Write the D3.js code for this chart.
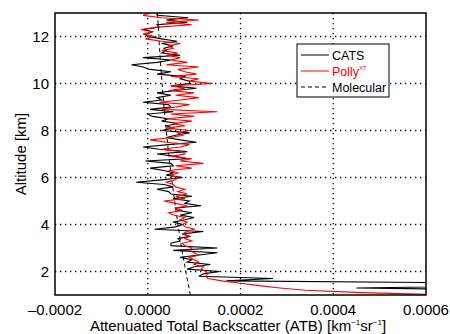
<!DOCTYPE html>
<html>
<head>
<meta charset="utf-8">
<script src="https://cdn.jsdelivr.net/npm/d3@7"></script>
<style>
  body { margin: 0; background: #fff; }
  svg { font-family: "Liberation Sans", Arial, Helvetica, sans-serif; }
</style>
</head>
<body>
<script>
// altitude grid [km] shared by both lidar profiles
const altitudeKm = [
  1.0,1.1,1.2,1.3,1.4,1.5,1.6,1.7,1.8,1.9,
  2.0,2.1,2.2,2.3,2.4,2.5,2.6,2.7,2.8,2.9,
  3.0,3.1,3.2,3.3,3.4,3.5,3.6,3.7,3.8,3.9,
  4.0,4.1,4.2,4.3,4.4,4.5,4.6,4.7,4.8,4.9,
  5.0,5.1,5.2,5.3,5.4,5.5,5.6,5.7,5.8,5.9,
  6.0,6.1,6.2,6.3,6.4,6.5,6.6,6.7,6.8,6.9,
  7.0,7.1,7.2,7.3,7.4,7.5,7.6,7.7,7.8,7.9,
  8.0,8.1,8.2,8.3,8.4,8.5,8.6,8.7,8.8,8.9,
  9.0,9.1,9.2,9.3,9.4,9.5,9.6,9.7,9.8,9.9,
  10.0,10.1,10.2,10.3,10.4,10.5,10.6,10.7,10.8,10.9,
  11.0,11.1,11.2,11.3,11.4,11.5,11.6,11.7,11.8,11.9,
  12.0,12.1,12.2,12.3,12.4,12.5,12.6,12.7,12.8,12.9,
  13.0
];

// ATB values in units of 1e-4 km^-1 sr^-1
const cats = [
  9.0,9.0,8.5,4.5,8.0,8.0,1.7,2.7,1.1,1.2,
  1.55,0.85,1.0,1.35,0.85,0.95,0.7,1.1,1.5,0.55,
  1.5,0.5,0.5,0.7,0.65,0.9,0.75,1.2,0.15,0.6,
  0.75,0.55,0.8,1.0,0.7,0.95,0.65,0.6,1.15,0.8,
  0.9,0.55,0.95,0.5,0.45,0.2,0.55,0.35,-0.25,0.3,
  0.75,0.4,0.55,0.35,0.05,0.55,0.5,-0.05,0.85,0.6,
  0.2,0.85,0.25,-0.1,0.45,1.05,0.7,0.4,0.6,0.9,
  0.3,0.55,0.4,0.65,0.3,0.45,0.1,0.0,0.55,0.05,
  0.5,0.45,-0.1,0.3,0.2,0.5,0.2,0.6,1.05,0.5,
  0.9,0.9,0.7,0.8,0.2,0.5,0.05,-0.1,-0.35,0.2,
  0.5,-0.1,0.7,0.3,0.4,0.35,0.55,0.3,0.63,0.3,
  0.0,-0.05,0.1,-0.1,0.25,0.2,0.85,0.4,0.87,0.2,
  0.2
];

const polly = [
  6.5,4.6,3.4,2.85,2.4,2.0,1.6,1.3,1.25,1.3,
  1.25,1.15,1.2,1.0,1.1,1.0,0.9,1.1,1.0,0.9,
  0.95,0.8,0.75,0.95,0.8,0.9,0.75,0.85,1.0,0.8,
  0.75,0.85,0.7,0.8,0.55,0.45,0.75,0.6,0.85,0.6,
  0.35,0.8,0.6,0.85,0.65,0.8,0.6,0.55,0.4,0.6,
  0.65,0.5,0.65,0.45,0.95,0.6,1.2,0.7,0.95,0.5,
  0.8,0.75,0.3,0.7,0.9,0.4,0.05,0.5,0.75,0.65,
  0.9,0.4,0.8,0.55,0.95,0.4,1.0,0.5,1.5,0.3,
  0.6,0.9,0.25,0.7,1.1,0.6,1.0,0.45,0.8,0.5,
  1.4,0.9,1.1,0.5,1.05,0.8,0.65,1.1,0.4,0.85,
  0.5,0.7,0.4,0.65,0.3,0.55,0.45,0.7,0.3,-0.05,
  0.15,-0.1,0.1,-0.15,0.2,0.95,0.4,1.1,0.3,-0.1,
  0.05
];

const molAltitude = [1, 2, 3, 4, 5, 6, 7, 8, 9, 10, 11, 12, 13];
const molecular = [0.92, 0.82, 0.73, 0.65, 0.58, 0.51, 0.45, 0.4, 0.35, 0.31, 0.27, 0.24, 0.21];

const xTicks = [-2, 0, 2, 4, 6];
const yTicks = [2, 4, 6, 8, 10, 12];

const W = 450, H = 334;
const pLeft = 55, pRight = 426, pTop = 13, pBottom = 295;

const x = d3.scaleLinear().domain([-2, 6]).range([pLeft, pRight]);
const y = d3.scaleLinear().domain([1, 13]).range([pBottom, pTop]);

const svg = d3.select('body').append('svg')
  .attr('width', W).attr('height', H);

svg.append('defs').append('clipPath').attr('id', 'plotclip')
  .append('rect')
  .attr('x', pLeft).attr('y', pTop)
  .attr('width', pRight - pLeft).attr('height', pBottom - pTop);

// dotted grid
const grid = svg.append('g')
  .attr('stroke', '#000').attr('stroke-width', 1.3)
  .attr('stroke-dasharray', '1.3,3.7');
grid.selectAll('line.gx').data(xTicks.filter(d => d > -2 && d < 6)).enter()
  .append('line')
  .attr('x1', d => x(d)).attr('x2', d => x(d))
  .attr('y1', pTop).attr('y2', pBottom);
grid.selectAll('line.gy').data(yTicks).enter()
  .append('line')
  .attr('x1', pLeft).attr('x2', pRight)
  .attr('y1', d => y(d)).attr('y2', d => y(d));

const plot = svg.append('g').attr('clip-path', 'url(#plotclip)');

const molLine = d3.line().x(d => x(d[1])).y(d => y(d[0]));
plot.append('path')
  .datum(molAltitude.map((a, i) => [a, molecular[i]]))
  .attr('d', molLine)
  .attr('fill', 'none').attr('stroke', '#000')
  .attr('stroke-width', 1).attr('stroke-dasharray', '4,3');

const profLine = d3.line().x(d => x(d[1])).y(d => y(d[0]));

plot.append('path')
  .datum(altitudeKm.map((a, i) => [a, cats[i]]))
  .attr('d', profLine)
  .attr('fill', 'none').attr('stroke', '#000').attr('stroke-width', 1.1);

plot.append('path')
  .datum(altitudeKm.map((a, i) => [a, polly[i]]))
  .attr('d', profLine)
  .attr('fill', 'none').attr('stroke', '#ff0000').attr('stroke-width', 1.1);

// frame
svg.append('rect')
  .attr('x', pLeft).attr('y', pTop)
  .attr('width', pRight - pLeft).attr('height', pBottom - pTop)
  .attr('fill', 'none').attr('stroke', '#000').attr('stroke-width', 1.5);

// tick labels
svg.selectAll('text.xt').data(xTicks).enter()
  .append('text')
  .attr('x', d => x(d)).attr('y', 315)
  .attr('text-anchor', 'middle')
  .attr('font-size', 15)
  .text(d => (d < 0 ? '\u2013' : '') + Math.abs(d * 1e-4).toFixed(4));

svg.selectAll('text.yt').data(yTicks).enter()
  .append('text')
  .attr('x', 49).attr('y', d => y(d) + 5)
  .attr('text-anchor', 'end')
  .attr('font-size', 15)
  .text(d => d);

// axis titles
const xl = svg.append('text')
  .attr('x', 238).attr('y', 331)
  .attr('text-anchor', 'middle')
  .attr('font-size', 15);
xl.append('tspan').text('Attenuated Total Backscatter (ATB) [km');
xl.append('tspan').attr('font-size', 8).attr('dy', -6).text('\u22121');
xl.append('tspan').attr('dy', 6).text('sr');
xl.append('tspan').attr('font-size', 8).attr('dy', -6).text('\u22121');
xl.append('tspan').attr('dy', 6).text(']');

svg.append('text')
  .attr('transform', 'translate(26,154) rotate(-90)')
  .attr('text-anchor', 'middle')
  .attr('font-size', 15)
  .text('Altitude [km]');

// legend
const lg = svg.append('g');
lg.append('rect')
  .attr('x', 297).attr('y', 44).attr('width', 92).attr('height', 53)
  .attr('fill', '#fff').attr('stroke', '#000').attr('stroke-width', 1);

const legendItems = [
  { label: 'CATS', color: '#000', dash: null },
  { label: 'Polly', color: '#ff0000', dash: null, sup: 'XT' },
  { label: 'Molecular', color: '#000', dash: '4,3' }
];
legendItems.forEach((d, i) => {
  const ly = 55 + i * 16;
  lg.append('line')
    .attr('x1', 301).attr('x2', 329).attr('y1', ly).attr('y2', ly)
    .attr('stroke', d.color).attr('stroke-width', 1)
    .attr('stroke-dasharray', d.dash);
  const t = lg.append('text')
    .attr('x', 332).attr('y', ly + 4.5)
    .attr('font-size', 12.5)
    .attr('fill', d.color)
    .text(d.label);
  if (d.sup) {
    t.append('tspan').attr('font-size', 6).attr('dy', -6).text(d.sup);
  }
});
</script>
</body>
</html>
